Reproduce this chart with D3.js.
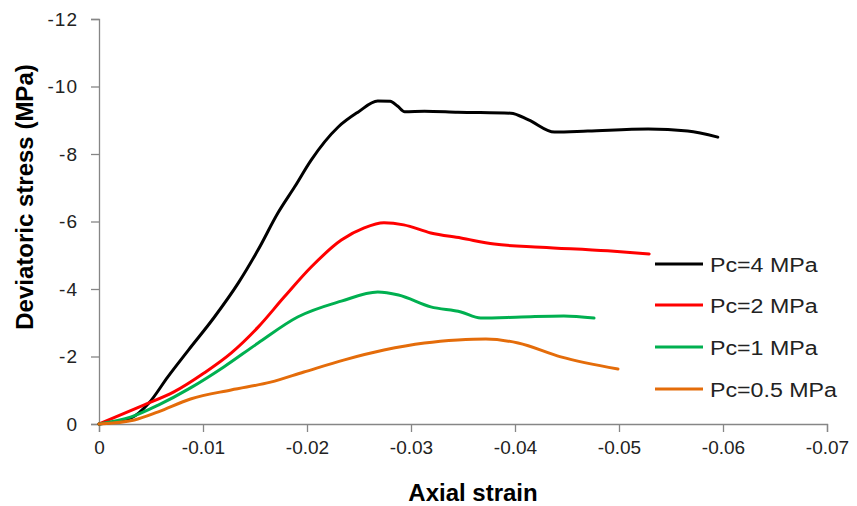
<!DOCTYPE html>
<html><head><meta charset="utf-8">
<script src="https://cdn.jsdelivr.net/npm/d3@7/dist/d3.min.js"></script>
<style>
body{margin:0;background:#fff;}
svg{display:block;}
</style></head>
<body><svg id="chart" width="857" height="506"></svg>
<script>
// ---- data (strain, deviatoric stress MPa) ----
const seriesNames = ["Pc=4 MPa","Pc=2 MPa","Pc=1 MPa","Pc=0.5 MPa"];
const seriesColors = ["#000000","#ff0000","#00b050","#e46c0a"];
const pc4 = [[0,0],[-0.0031,-0.18],[-0.0048,-0.62],[-0.0066,-1.39],[-0.0086,-2.19],[-0.0111,-3.17],[-0.0134,-4.18],[-0.0153,-5.16],[-0.0172,-6.25],[-0.0188,-7.02],[-0.0204,-7.82],[-0.0230,-8.80],[-0.0249,-9.24],[-0.0268,-9.57],[-0.0280,-9.56],[-0.0287,-9.42],[-0.0294,-9.25],[-0.0313,-9.27],[-0.0345,-9.24],[-0.0396,-9.21],[-0.0413,-9.01],[-0.0438,-8.65],[-0.0470,-8.68],[-0.0528,-8.74],[-0.0566,-8.68],[-0.0595,-8.50]];
const pc2 = [[0,0],[-0.0043,-0.56],[-0.0072,-0.95],[-0.0101,-1.51],[-0.0127,-2.10],[-0.0153,-2.87],[-0.0178,-3.76],[-0.0204,-4.65],[-0.0233,-5.45],[-0.0255,-5.81],[-0.0274,-5.96],[-0.0293,-5.90],[-0.0319,-5.66],[-0.0348,-5.51],[-0.0380,-5.33],[-0.0425,-5.24],[-0.0489,-5.13],[-0.0529,-5.04]];
const pc1 = [[0,0],[-0.0031,-0.21],[-0.0057,-0.56],[-0.0088,-1.07],[-0.0120,-1.69],[-0.0153,-2.40],[-0.0191,-3.17],[-0.0233,-3.64],[-0.0268,-3.91],[-0.0288,-3.82],[-0.0319,-3.47],[-0.0348,-3.32],[-0.0367,-3.14],[-0.0406,-3.17],[-0.0447,-3.20],[-0.0476,-3.14]];
const pc05 = [[0,0],[-0.0034,-0.12],[-0.0057,-0.36],[-0.0088,-0.74],[-0.0127,-1.01],[-0.0165,-1.24],[-0.0197,-1.54],[-0.0236,-1.90],[-0.0274,-2.19],[-0.0313,-2.40],[-0.0345,-2.49],[-0.0372,-2.52],[-0.0403,-2.40],[-0.0444,-1.99],[-0.0499,-1.63]];
const xTicks = [0,-0.01,-0.02,-0.03,-0.04,-0.05,-0.06,-0.07];
const yTicks = [0,-2,-4,-6,-8,-10,-12];
const xTitle = "Axial strain";
const yTitle = "Deviatoric stress (MPa)";

const allSeries = [pc4, pc2, pc1, pc05];

const svg = d3.select("#chart");
const x = d3.scaleLinear().domain([0,-0.07]).range([99,827]);
const y = d3.scaleLinear().domain([0,-12]).range([424,19]);
const axisColor = "#868686";
const fontTick = "'Liberation Sans', Arial, sans-serif";

// x axis
const gx = svg.append("g").attr("transform","translate(0,424)")
  .call(d3.axisBottom(x).tickValues(xTicks).tickSize(8).tickPadding(9));
gx.select(".domain").attr("stroke",axisColor).attr("stroke-width",1.3);
gx.selectAll(".tick line").attr("stroke",axisColor).attr("stroke-width",1.3);
gx.selectAll(".tick text").attr("font-family",fontTick).attr("font-size",19).attr("fill","#222")
  .text(d => d===0 ? "0" : "-" + d3.format(".2f")(Math.abs(d)));

// y axis
const gy = svg.append("g").attr("transform","translate(99,0)")
  .call(d3.axisLeft(y).tickValues(yTicks).tickSize(8).tickPadding(13));
gy.select(".domain").attr("stroke",axisColor).attr("stroke-width",1.3);
gy.selectAll(".tick line").attr("stroke",axisColor).attr("stroke-width",1.3);
gy.selectAll(".tick text").attr("font-family",fontTick).attr("font-size",19).attr("fill","#222")
  .attr("letter-spacing",1)
  .text(d => d===0 ? "0" : "-" + Math.abs(d));

// titles
svg.append("text").attr("x",473).attr("y",501).attr("text-anchor","middle")
  .attr("font-family",fontTick).attr("font-weight","bold").attr("font-size",24).attr("fill","#000").text(xTitle);
svg.append("text").attr("transform","translate(33,197) rotate(-90)").attr("text-anchor","middle")
  .attr("font-family",fontTick).attr("font-weight","bold").attr("font-size",24).attr("fill","#000").text(yTitle);

// lines
const line = d3.line().x(d => x(d[0])).y(d => y(d[1])).curve(d3.curveMonotoneX);
allSeries.forEach((s,i) => {
  svg.append("path").datum(s).attr("d",line).attr("fill","none")
    .attr("stroke",seriesColors[i]).attr("stroke-width",3).attr("stroke-linejoin","round").attr("stroke-linecap","round");
});

// legend
const legY = [264,305,347,389];
seriesNames.forEach((n,i) => {
  svg.append("line").attr("x1",655).attr("x2",703).attr("y1",legY[i]).attr("y2",legY[i])
    .attr("stroke",seriesColors[i]).attr("stroke-width",3);
  svg.append("text").attr("transform",`translate(710,${legY[i]+8}) scale(1.16,1)`)
    .attr("font-family",fontTick).attr("font-size",20).attr("fill","#222").text(n);
});
</script></body></html>
